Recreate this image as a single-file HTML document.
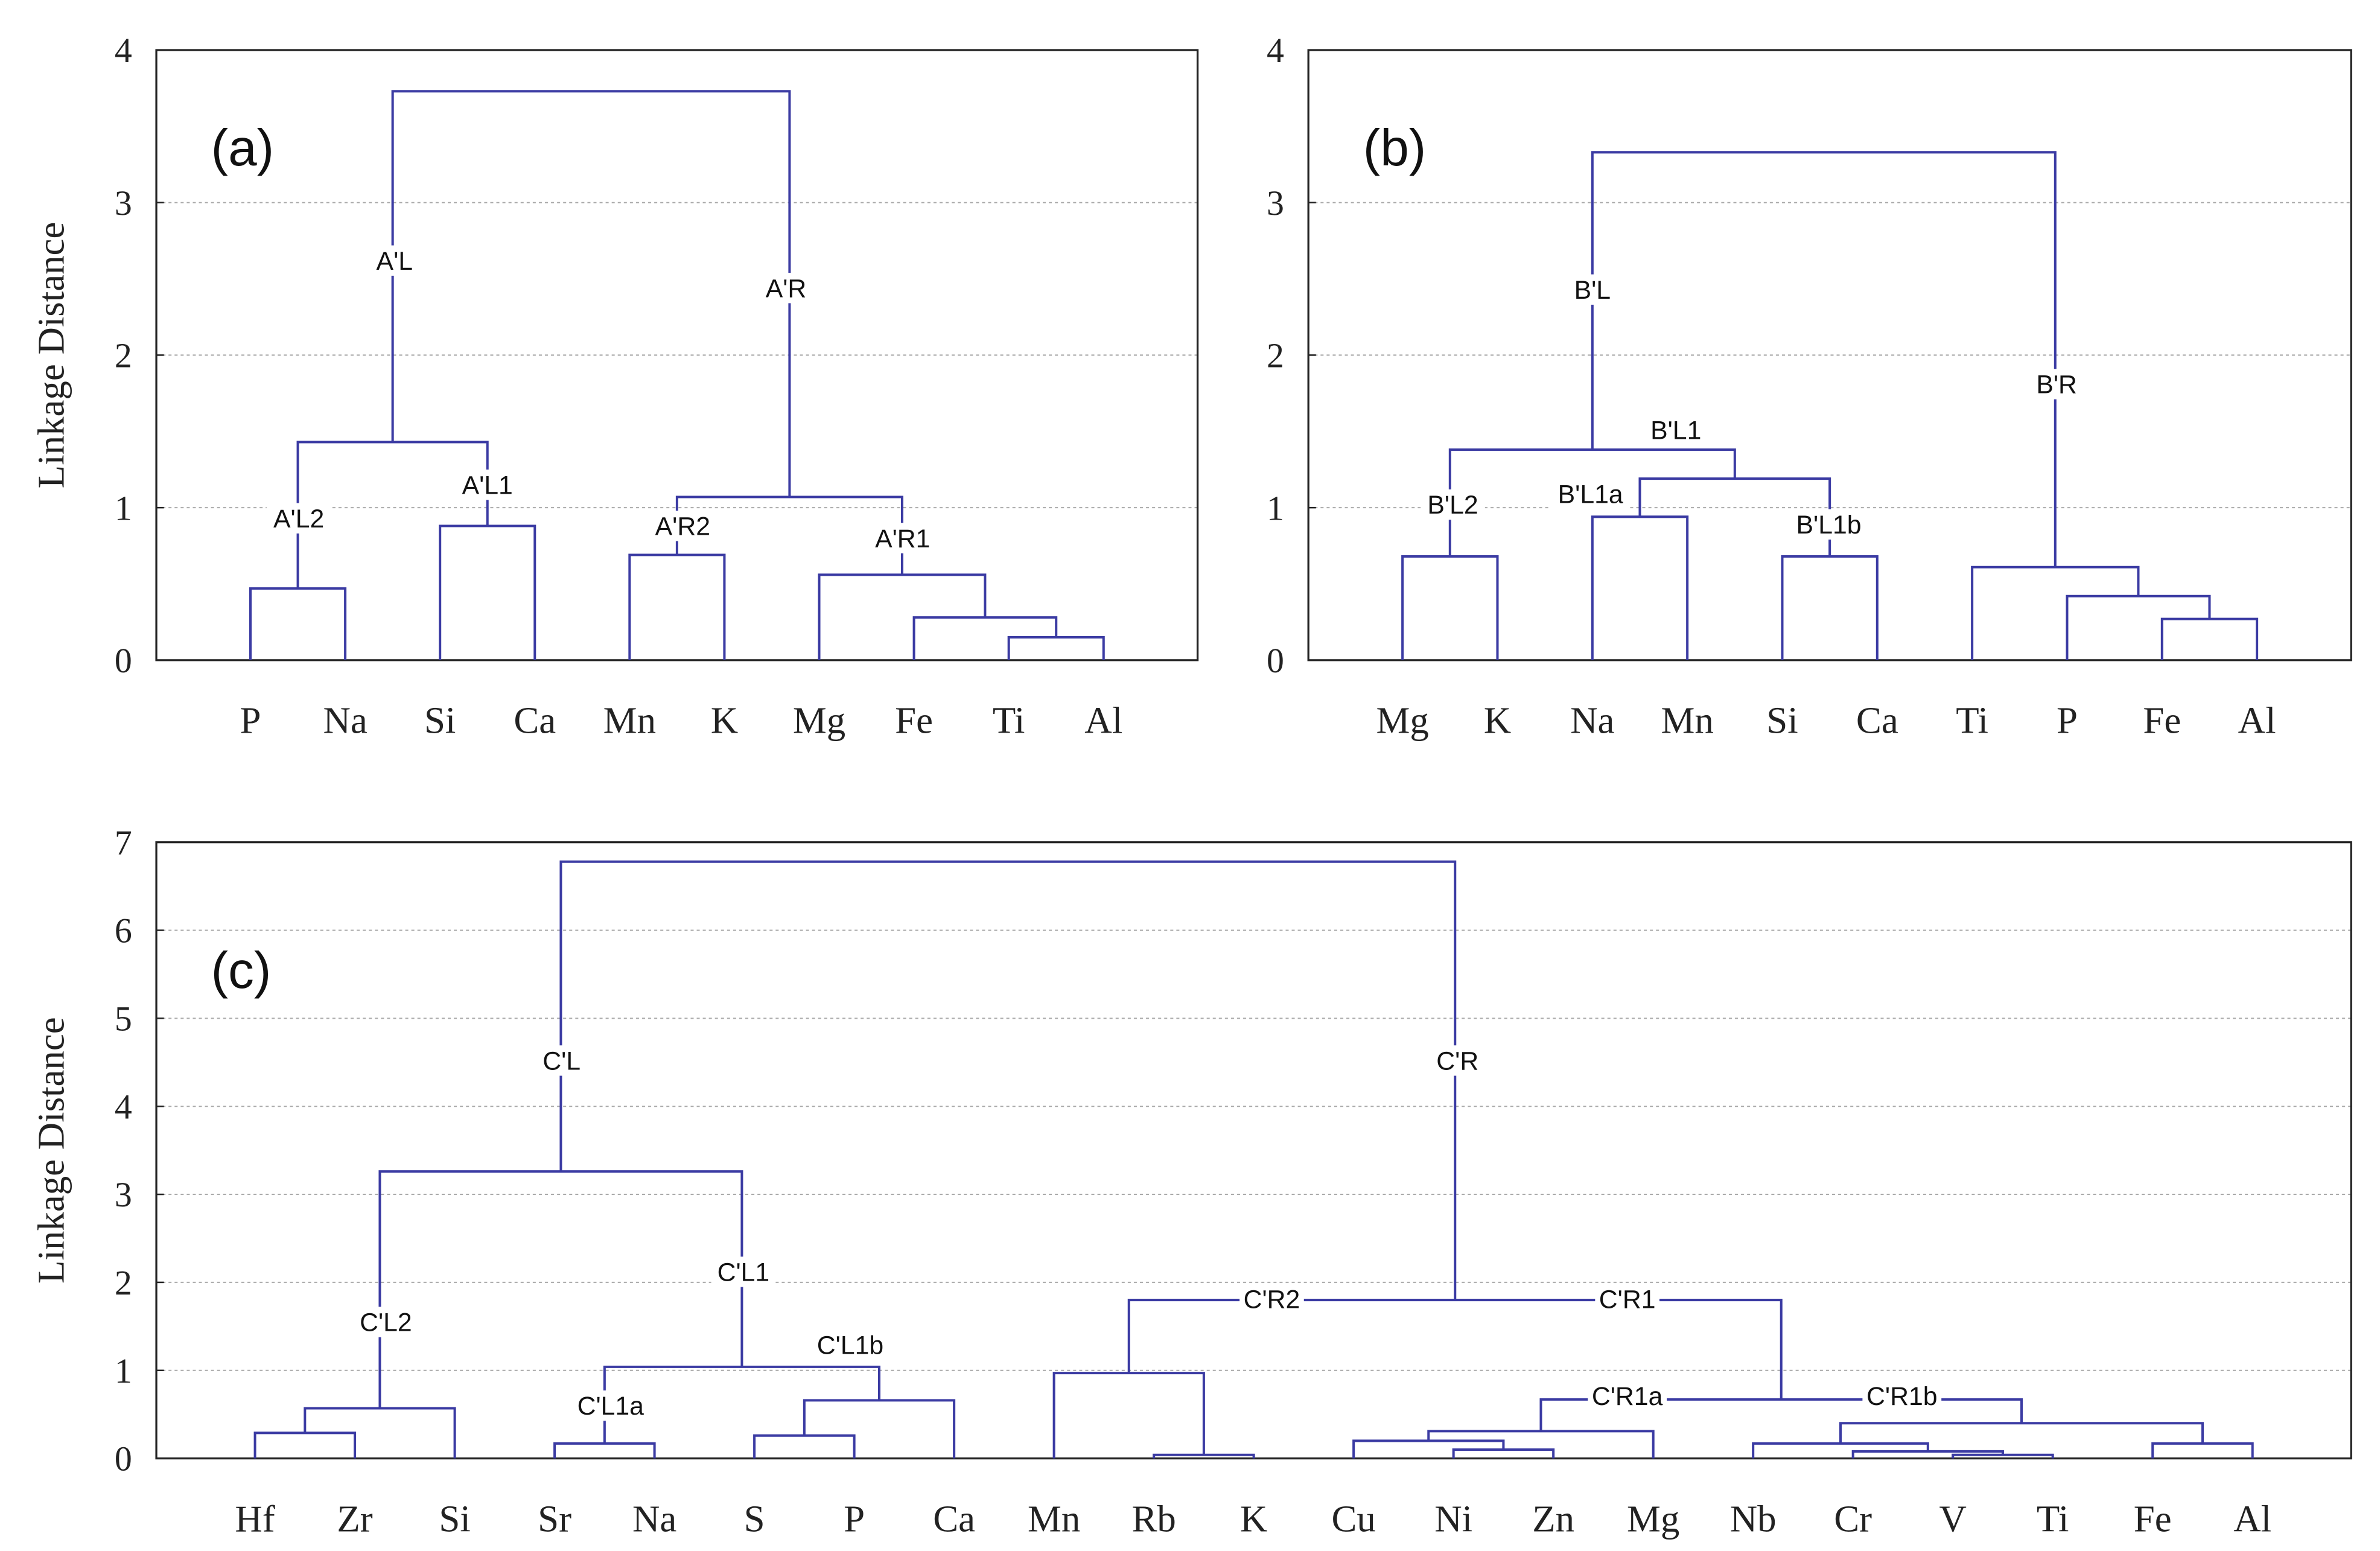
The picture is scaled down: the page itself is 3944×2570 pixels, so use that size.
<!DOCTYPE html>
<html><head><meta charset="utf-8">
<style>
html,body{margin:0;padding:0;background:#fff;}
svg{display:block;}
.tick{font-family:"Liberation Serif",serif;font-size:23px;fill:#222;}
.leaf{font-family:"Liberation Serif",serif;font-size:25px;fill:#222;}
.ytitle{font-family:"Liberation Serif",serif;font-size:25px;fill:#222;}
.ann{font-family:"Liberation Sans",sans-serif;font-size:17px;fill:#111;}
.big{font-family:"Liberation Sans",sans-serif;font-size:34px;fill:#111;}
</style></head>
<body>
<svg id="chart" width="3944" height="2570" viewBox="0 0 1568 1022" preserveAspectRatio="none" xmlns="http://www.w3.org/2000/svg">
<rect x="0" y="0" width="1568" height="1022" fill="#fff"/>
</svg>
<script>
// Panel (a)
const leavesA = ["P","Na","Si","Ca","Mn","K","Mg","Fe","Ti","Al"];
const mergesA = [[0,1,0.47],[2,3,0.88],[10,11,1.43],[4,5,0.69],[8,9,0.15],[7,14,0.28],[6,15,0.56],[13,16,1.07],[12,17,3.73]];
const annA = [["A'L",1.52,2.62],["A'R",5.65,2.44],["A'L2",0.51,0.93],["A'L1",2.5,1.15],["A'R2",4.56,0.88],["A'R1",6.88,0.8]];
const ticksA = [0,1,2,3,4];
// Panel (b)
const leavesB = ["Mg","K","Na","Mn","Si","Ca","Ti","P","Fe","Al"];
const mergesB = [[0,1,0.68],[2,3,0.94],[4,5,0.68],[11,12,1.19],[10,13,1.38],[8,9,0.27],[7,15,0.42],[6,16,0.61],[14,17,3.33]];
const annB = [["B'L",2.0,2.43],["B'R",6.89,1.81],["B'L1",2.88,1.51],["B'L1a",1.98,1.09],["B'L2",0.53,1.02],["B'L1b",4.49,0.89]];
const ticksB = [0,1,2,3,4];
// Panel (c)
const leavesC = ["Hf","Zr","Si","Sr","Na","S","P","Ca","Mn","Rb","K","Cu","Ni","Zn","Mg","Nb","Cr","V","Ti","Fe","Al"];
const mergesC = [[0,1,0.29],[21,2,0.57],[3,4,0.17],[5,6,0.26],[24,7,0.66],[23,25,1.04],[22,26,3.26],
 [9,10,0.04],[8,28,0.97],[12,13,0.1],[11,30,0.2],[31,14,0.31],[17,18,0.04],[16,33,0.08],[15,34,0.17],[19,20,0.17],[35,36,0.4],[32,37,0.67],[29,38,1.8],[27,39,6.78]];
const annC = [["C'L",3.07,4.52],["C'R",12.04,4.52],["C'L1",4.89,2.12],["C'L2",1.31,1.55],["C'L1b",5.96,1.29],["C'L1a",3.56,0.6],["C'R2",10.18,1.81],["C'R1",13.74,1.81],["C'R1a",13.74,0.71],["C'R1b",16.49,0.71]];
const ticksC = [0,1,2,3,4,5,6,7];

const svg = document.getElementById('chart');
const NS = "http://www.w3.org/2000/svg";
function mk(tag, attrs, parent){const e=document.createElementNS(NS,tag);for(const k in attrs)e.setAttribute(k,attrs[k]);(parent||svg).appendChild(e);return e;}

function panel(cfg){
  const g = mk('g',{});
  
  
  const yS = v => cfg.y0 - (v/cfg.ymax)*(cfg.y0-cfg.y1);
  const xS = i => cfg.lx0 + i*cfg.sp;
  cfg.ticks.forEach(t=>{
    if(t>0 && t<cfg.ymax){
      const l = mk('line',{x1:cfg.bx0,x2:cfg.bx1,y1:yS(t),y2:yS(t),stroke:'#aaa','stroke-width':0.8,'stroke-dasharray':'2,2'},g);
      
      
    }
    const tx = mk('text',{x:cfg.bx0-16,y:yS(t)+8,'text-anchor':'end',class:'tick'},g);
    tx.textContent = t;
    
    
    const tk = mk('line',{x1:cfg.bx0,x2:cfg.bx0+5,y1:yS(t),y2:yS(t),stroke:'#222','stroke-width':1},g);
    
    
  });
  const box = mk('rect',{x:cfg.bx0,y:cfg.y1,width:cfg.bx1-cfg.bx0,height:cfg.y0-cfg.y1,fill:'none',stroke:'#222','stroke-width':1.3},g);
  
  
  const nodes = cfg.leaves.map((n,i)=>({x:xS(i),h:0}));
  cfg.leaves.forEach((n,i)=>{
    const t = mk('text',{x:xS(i),y:cfg.y0+48,'text-anchor':'middle',class:'leaf'},g);
    t.textContent = n;
    
    
  });
  cfg.merges.forEach(m=>{
    const a=nodes[m[0]], b=nodes[m[1]], h=m[2];
    const p = mk('path',{d:`M${a.x},${yS(a.h)}V${yS(h)}H${b.x}V${yS(b.h)}`,fill:'none',stroke:'#3b3ba3','stroke-width':1.6},g);
    
    
    nodes.push({x:(a.x+b.x)/2,h:h});
  });
  cfg.ann.forEach(a=>{
    const x=xS(a[1]), y=yS(a[2]);
    const w = a[0].length*9.6+4;
    const r = mk('rect',{x:x-w/2,y:y-10,width:w,height:20,fill:'#fff'},g);
    
    
    const t = mk('text',{x:x,y:y+6,'text-anchor':'middle',class:'ann'},g);
    t.textContent = a[0];
    
    
  });
  const pl = mk('text',{x:cfg.bx0+36,y:cfg.y1+cfg.tagDy,class:'big'},g);
  pl.textContent = cfg.tag;
  
  
  if(cfg.ytitle){
    const cy=(cfg.y0+cfg.y1)/2;
    const yt = mk('text',{x:42,y:cy,'text-anchor':'middle',class:'ytitle',transform:`rotate(-90 42 ${cy})`},g);
    yt.textContent='Linkage Distance';
    
    
  }
}
panel({name:'panel-a',tag:'(a)',tagDy:76,leaves:leavesA,merges:mergesA,ann:annA,ticks:ticksA,ymax:4,bx0:103,bx1:789,y0:435,y1:33,lx0:165,sp:62.45,ytitle:true});
panel({name:'panel-b',tag:'(b)',tagDy:76,leaves:leavesB,merges:mergesB,ann:annB,ticks:ticksB,ymax:4,bx0:862,bx1:1549,y0:435,y1:33,lx0:924,sp:62.55,ytitle:false});
panel({name:'panel-c',tag:'(c)',tagDy:96,leaves:leavesC,merges:mergesC,ann:annC,ticks:ticksC,ymax:7,bx0:103,bx1:1549,y0:961,y1:555,lx0:168,sp:65.8,ytitle:true});
</script>
</body></html>
